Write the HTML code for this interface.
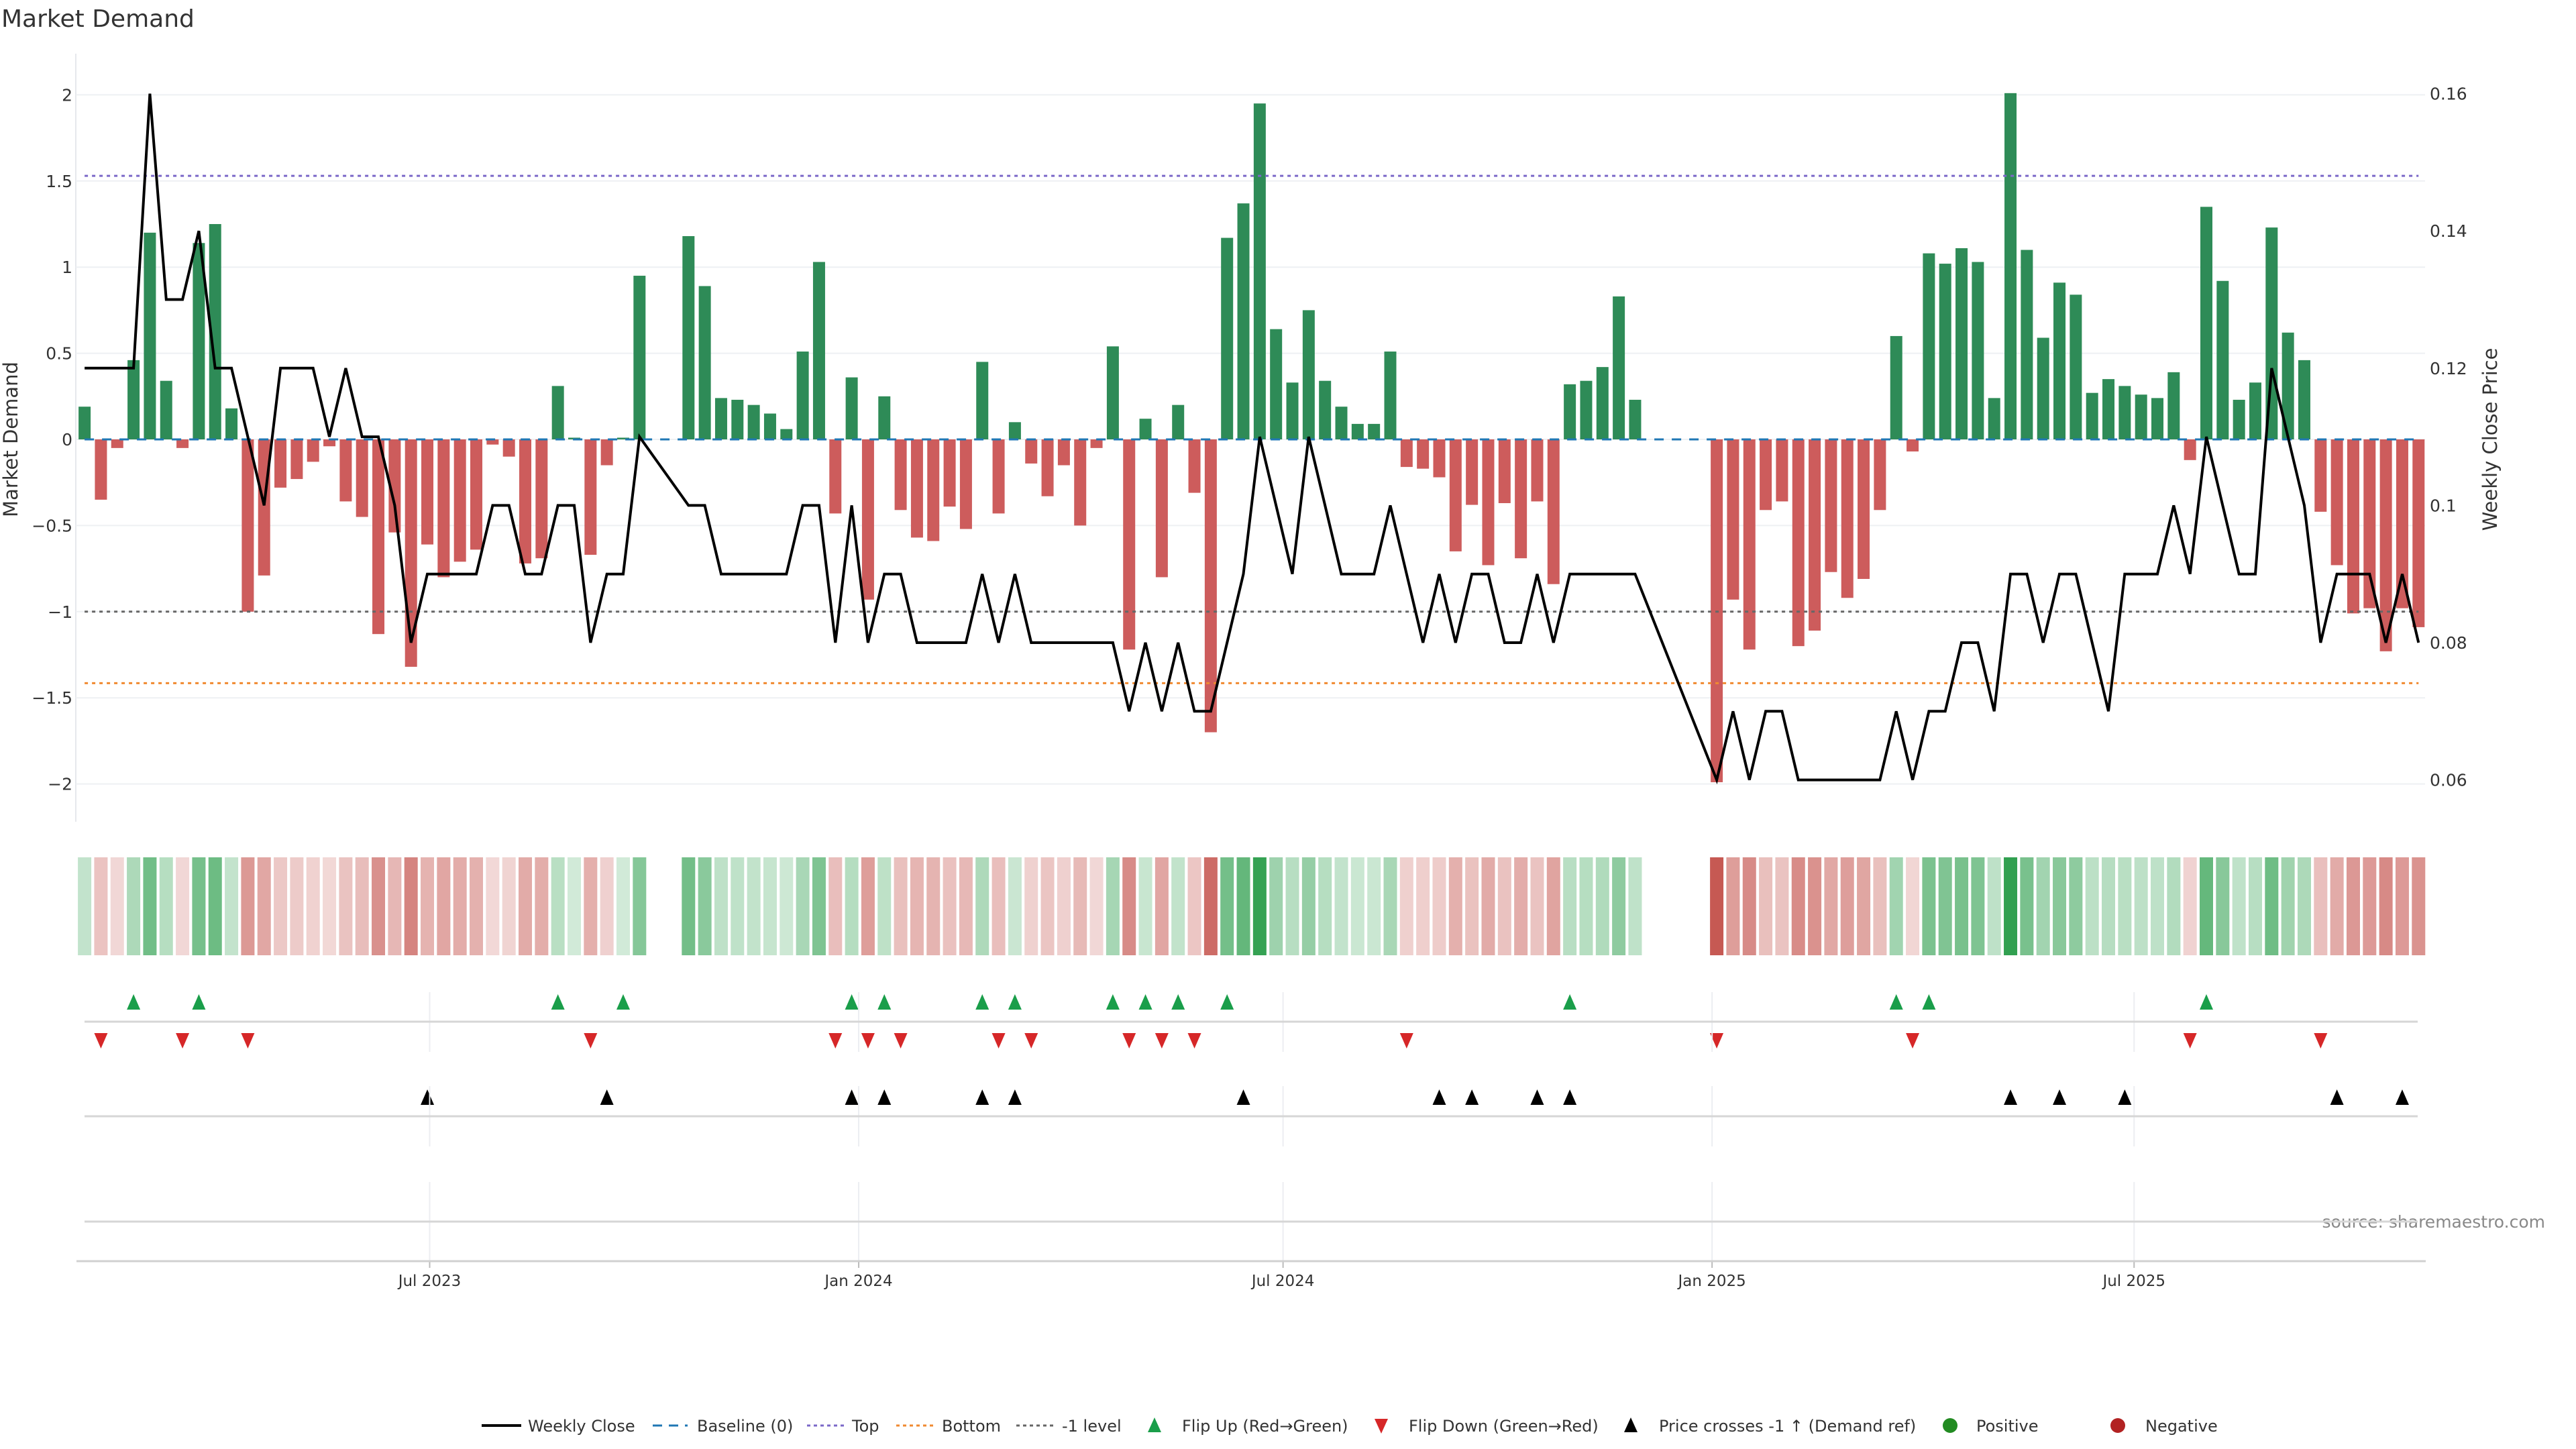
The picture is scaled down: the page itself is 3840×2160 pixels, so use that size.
<!DOCTYPE html>
<html><head><meta charset="utf-8"><title>Market Demand</title>
<style>
html,body{margin:0;padding:0;background:#fff;}
svg{display:block;font-family:"DejaVu Sans","Liberation Sans",sans-serif;}
</style></head>
<body>
<svg id="chart" width="3840" height="2160" viewBox="0 0 3840 2160" xmlns="http://www.w3.org/2000/svg">
<text x="2" y="40" font-size="36" fill="#333">Market Demand</text>
<text transform="translate(26,655) rotate(-90)" text-anchor="middle" font-size="29" fill="#333">Market Demand</text>
<text transform="translate(3722,655) rotate(-90)" text-anchor="middle" font-size="29" fill="#333">Weekly Close Price</text>
<text x="3794" y="1830" text-anchor="end" font-size="25" fill="#888">source: sharemaestro.com</text>
<g id="grid"></g><g id="bars"></g><g id="refs"></g><g id="price"></g><g id="heat"></g><g id="marks"></g><g id="xaxis"></g><g id="legend"></g>
</svg>
<script>
const demandValues = [0.19,-0.35,-0.05,0.46,1.20,0.34,-0.05,1.14,1.25,0.18,
-1.00,-0.79,-0.28,-0.23,-0.13,-0.04,-0.36,-0.45,-1.13,-0.54,
-1.32,-0.61,-0.80,-0.71,-0.64,-0.03,-0.10,-0.72,-0.69,0.31,
0.01,-0.67,-0.15,0.01,0.95,null,null,1.18,0.89,0.24,
0.23,0.20,0.15,0.06,0.51,1.03,-0.43,0.36,-0.93,0.25,
-0.41,-0.57,-0.59,-0.39,-0.52,0.45,-0.43,0.10,-0.14,-0.33,
-0.15,-0.50,-0.05,0.54,-1.22,0.12,-0.80,0.20,-0.31,-1.70,
1.17,1.37,1.95,0.64,0.33,0.75,0.34,0.19,0.09,0.09,
0.51,-0.16,-0.17,-0.22,-0.65,-0.38,-0.73,-0.37,-0.69,-0.36,
-0.84,0.32,0.34,0.42,0.83,0.23,null,null,null,null,
-1.99,-0.93,-1.22,-0.41,-0.36,-1.20,-1.11,-0.77,-0.92,-0.81,
-0.41,0.60,-0.07,1.08,1.02,1.11,1.03,0.24,2.01,1.10,
0.59,0.91,0.84,0.27,0.35,0.31,0.26,0.24,0.39,-0.12,
1.35,0.92,0.23,0.33,1.23,0.62,0.46,-0.42,-0.73,-1.01,
-0.98,-1.23,-0.98,-1.09];
const closePrices = [0.12,0.12,0.12,0.12,0.16,0.13,0.13,0.14,0.12,0.12,
0.11,0.10,0.12,0.12,0.12,0.11,0.12,0.11,0.11,0.10,
0.08,0.09,0.09,0.09,0.09,0.10,0.10,0.09,0.09,0.10,
0.10,0.08,0.09,0.09,0.11,null,null,0.10,0.10,0.09,
0.09,0.09,0.09,0.09,0.10,0.10,0.08,0.10,0.08,0.09,
0.09,0.08,0.08,0.08,0.08,0.09,0.08,0.09,0.08,0.08,
0.08,0.08,0.08,0.08,0.07,0.08,0.07,0.08,0.07,0.07,
0.08,0.09,0.11,0.10,0.09,0.11,0.10,0.09,0.09,0.09,
0.10,0.09,0.08,0.09,0.08,0.09,0.09,0.08,0.08,0.09,
0.08,0.09,0.09,0.09,0.09,0.09,null,null,null,null,
0.06,0.07,0.06,0.07,0.07,0.06,0.06,0.06,0.06,0.06,
0.06,0.07,0.06,0.07,0.07,0.08,0.08,0.07,0.09,0.09,
0.08,0.09,0.09,0.08,0.07,0.09,0.09,0.09,0.10,0.09,
0.11,0.10,0.09,0.09,0.12,0.11,0.10,0.08,0.09,0.09,
0.09,0.08,0.09,0.08];
const flipUpIdx = [3,7,29,33,47,49,55,57,63,65,67,70,91,111,113,130];
const flipDownIdx = [1,6,10,31,46,48,50,56,58,64,66,68,81,100,112,129,137];
const crossUpIdx = [21,32,47,49,55,57,71,83,85,89,91,118,121,125,138,142];
const leftTicks = [2,1.5,1,0.5,0,-0.5,-1,-1.5,-2];
const leftTickLabels = ["2","1.5","1","0.5","0","\u22120.5","\u22121","\u22121.5","\u22122"];
const rightTicks = [0.16,0.14,0.12,0.1,0.08,0.06];
const rightTickLabels = ["0.16","0.14","0.12","0.1","0.08","0.06"];
const dateTicks = ["2023-07-01","2024-01-01","2024-07-01","2025-01-01","2025-07-01"];
const dateTickLabels = ["Jul 2023","Jan 2024","Jul 2024","Jan 2025","Jul 2025"];
const topLevel = 1.53, bottomLevel = -1.415, minusOneLevel = -1;
const startDate = "2023-02-03";

const NS="http://www.w3.org/2000/svg";
function mk(parent,tag,attrs,text){const e=document.createElementNS(NS,tag);for(const k in attrs)e.setAttribute(k,attrs[k]);if(text!==undefined)e.textContent=text;parent.appendChild(e);return e;}
const DAY=86400000, PXDAY=24.33/7, X0=126.1;
const t0=Date.parse(startDate+"T00:00:00Z");
function xDate(s){return X0+(Date.parse(s+"T00:00:00Z")-t0)/DAY*PXDAY;}
function xIdx(i){return X0+i*24.33;}
function yL(v){return 655-v*256.8;}
function yR(p){return 548.8-(p-0.12)*10230;}
const XL=113, XR=3615, N=demandValues.length;

// grid + ticks
const grid=document.getElementById('grid');
mk(grid,'line',{x1:XL,x2:XL,y1:80,y2:1225,stroke:'#e6e8ec','stroke-width':2,});
leftTicks.forEach((v,k)=>{
  const gl=mk(grid,'line',{x1:XL,x2:XR,y1:yL(v),y2:yL(v),stroke:'#eef0f3','stroke-width':2});
  
  
  const t=mk(grid,'text',{x:108,y:yL(v)+9,'text-anchor':'end','font-size':25,fill:'#333'},leftTickLabels[k]);
  
  
});
rightTicks.forEach((p,k)=>{
  const t=mk(grid,'text',{x:3622,y:yR(p)+9,'font-size':25,fill:'#333'},rightTickLabels[k]);
  
  
});

// bars
const bars=document.getElementById('bars');
demandValues.forEach((v,i)=>{
  if(v===null)return;
  const y=Math.min(yL(v),yL(0)), h=Math.max(Math.abs(yL(v)-yL(0)),1);
  const r=mk(bars,'rect',{x:xIdx(i)-9,y:y,width:18,height:h,fill:v>=0?'#2e8b57':'#cd5c5c'});
  
  
});

// reference lines
const refs=document.getElementById('refs');
const x1r=xIdx(0), x2r=xIdx(N-1);
[[0,'#1f77b4','14 12','baseline-line'],[topLevel,'#7b68c8','5 6','top-line'],[bottomLevel,'#f08a30','5 6','bottom-line'],[minusOneLevel,'#666','5 6','minus-one-line']].forEach(d=>{
  const l=mk(refs,'line',{x1:x1r,x2:x2r,y1:yL(d[0]),y2:yL(d[0]),stroke:d[1],'stroke-width':3,'stroke-dasharray':d[2]});
  
  
});

// price line
const pts=[];closePrices.forEach((p,i)=>{if(p!==null)pts.push(xIdx(i).toFixed(1)+','+yR(p).toFixed(1));});
const pl=mk(document.getElementById('price'),'polyline',{points:pts.join(' '),fill:'none',stroke:'#000','stroke-width':4,'stroke-linejoin':'miter'});



// heatmap
const heat=document.getElementById('heat');
function mix(c,t){return 'rgb('+c.map(x=>Math.round(255+(x-255)*t)).join(',')+')';}
demandValues.forEach((v,i)=>{
  if(v===null)return;
  const t=0.22+0.78*Math.min(Math.abs(v)/2,1);
  const c=v>=0?mix([49,160,80],t):mix([198,88,82],t);
  const r=mk(heat,'rect',{x:xIdx(i)-10,y:1278,width:20,height:146,fill:c});
  
  
});

// x axis + panel lines
const xa=document.getElementById('xaxis');
dateTicks.forEach((d,k)=>{
  const x=xDate(d);
  [[1479,1568],[1619,1709],[1762,1880]].forEach(s=>{
    const g=mk(xa,'line',{x1:x,x2:x,y1:s[0],y2:s[1],stroke:'#eceef1','stroke-width':2});
    
    
  });
  mk(xa,'line',{x1:x,x2:x,y1:1880,y2:1890,stroke:'#bbb','stroke-width':2});
  const t=mk(xa,'text',{x:x,y:1917,'text-anchor':'middle','font-size':23,fill:'#333'},dateTickLabels[k]);
  
  
});
[1523,1664,1821].forEach(y=>{
  const l=mk(xa,'line',{x1:126,x2:3604,y1:y,y2:y,stroke:'#d6d6d6','stroke-width':3});
  
  
});
const xl=mk(xa,'line',{x1:114,x2:3616,y1:1880,y2:1880,stroke:'#d0d0d0','stroke-width':3});



// markers
const mg=document.getElementById('marks');
function tri(x,y,up,col,name){
  const p=up?`${x},${y-12} ${x-10},${y+11} ${x+10},${y+11}`:`${x-10},${y-11} ${x+10},${y-11} ${x},${y+12}`;
  const e=mk(mg,'polygon',{points:p,fill:col});
  
  
}
flipUpIdx.forEach(i=>tri(xIdx(i),1494,true,'#1a9e4a','flip-up-marker'));
flipDownIdx.forEach(i=>tri(xIdx(i),1551,false,'#d62728','flip-down-marker'));
crossUpIdx.forEach(i=>tri(xIdx(i),1636,true,'#000','price-cross-marker'));

// legend
const lg=document.getElementById('legend');
const LY=2125;
function ltext(x,s){const t=mk(lg,'text',{x:x,y:LY+9,'font-size':24,fill:'#333'},s);}
function lline(x1,x2,col,dash,w){const l=mk(lg,'line',{x1:x1,x2:x2,y1:LY,y2:LY,stroke:col,'stroke-width':w,'stroke-dasharray':dash});}
lline(718,777,'#000','none',4);ltext(787,'Weekly Close');
lline(973,1025,'#1f77b4','14 10',3);ltext(1039,'Baseline (0)');
lline(1203,1258,'#7b68c8','5 5',3);ltext(1270,'Top');
lline(1336,1392,'#f08a30','5 5',3);ltext(1404,'Bottom');
lline(1515,1570,'#666','5 5',3);ltext(1583,'-1 level');
function ltri(x,up,col){const p=up?`${x},${LY-12} ${x-10},${LY+10} ${x+10},${LY+10}`:`${x-10},${LY-10} ${x+10},${LY-10} ${x},${LY+12}`;const e=mk(lg,'polygon',{points:p,fill:col});}
ltri(1721,true,'#1a9e4a');ltext(1762,'Flip Up (Red\u2192Green)');
ltri(2059,false,'#d62728');ltext(2100,'Flip Down (Green\u2192Red)');
ltri(2431,true,'#000');ltext(2473,'Price crosses -1 \u2191 (Demand ref)');
function ldot(x,col){const c=mk(lg,'circle',{cx:x,cy:LY,r:11,fill:col});}
ldot(2907,'#228b22');ltext(2946,'Positive');
ldot(3157,'#b22222');ltext(3198,'Negative');
</script>
</body></html>
